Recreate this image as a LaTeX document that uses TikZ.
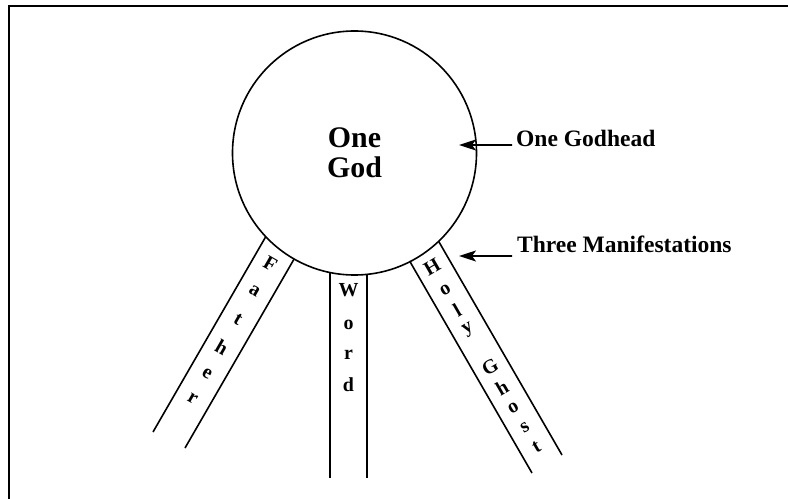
\documentclass[tikz,border=0pt]{standalone}
\usepackage{fontspec}
\setmainfont{Liberation Serif}
\usetikzlibrary{arrows.meta,calc}

\begin{document}
\begin{tikzpicture}[x=1bp, y=-1bp, >={Stealth[length=17bp,width=11bp,inset=4bp]},
    frame/.style={line width=2.6bp},
    beam/.style={line width=1.6bp},
    arr/.style={->, line width=1.8bp},
    lab/.style={font=\fontsize{23.6}{28}\selectfont\bfseries, inner sep=0pt},
    ltr/.style={font=\fontsize{20}{20}\selectfont\bfseries, inner sep=0pt}]
  \useasboundingbox (0,0) rectangle (788,499);
  \draw[frame] (9,499) -- (9,6) -- (788,6);
  % beams, drawn first so the circle covers their top ends
  \draw[beam] (153,432) -- +(-60:260);
  \draw[beam] (185,448) -- +(-60:260);
  \draw[beam] (330,478) -- (330,200);
  \draw[beam] (367,478) -- (367,200);
  \draw[beam] (532,473) -- +(240:260);
  \draw[beam] (562,455) -- +(240:260);
  \node[draw, circle, fill=white, line width=1.6bp, minimum size=244bp, inner sep=0pt,
    align=center, font=\fontsize{30}{30}\selectfont\bfseries] (god) at (354.5,153) {One\\God};
  % letters along the beams
  \coordinate (fbot) at (168,441);
  \coordinate (hbot) at (546,464);
  \foreach \c/\s [count=\i] in {F/205,a/173,t/140,h/108,e/78,r/49}
    \node[ltr, rotate=-30] (fa\i) at ($(fbot)+(-60:\s)$) {\c};
  \foreach \c/\y [count=\i] in {W/290,o/325,r/355,d/385}
    \node[ltr] (wo\i) at (348.5,\y) {\c};
  \foreach \c/\s [count=\i] in {H/228,o/201,l/178,y/155,G/112,h/88,o/65,s/42,t/19}
    \node[ltr, rotate=30] (hg\i) at ($(hbot)+(240:\s)$) {\c};
  % labels
  \node[lab, anchor=base west] (gh) at (516,147) {One Godhead};
  \node[lab, anchor=base west] (tm) at (517,253) {Three Manifestations};
  \coordinate (ghtip) at (459,145);
  \coordinate (tmtip) at (459,256);
  \draw[arr] ([xshift=-4bp,yshift=2bp]gh.base west) -- (ghtip);
  \draw[arr] ([xshift=-5bp,yshift=-3bp]tm.base west) -- (tmtip);
\end{tikzpicture}
\end{document}
